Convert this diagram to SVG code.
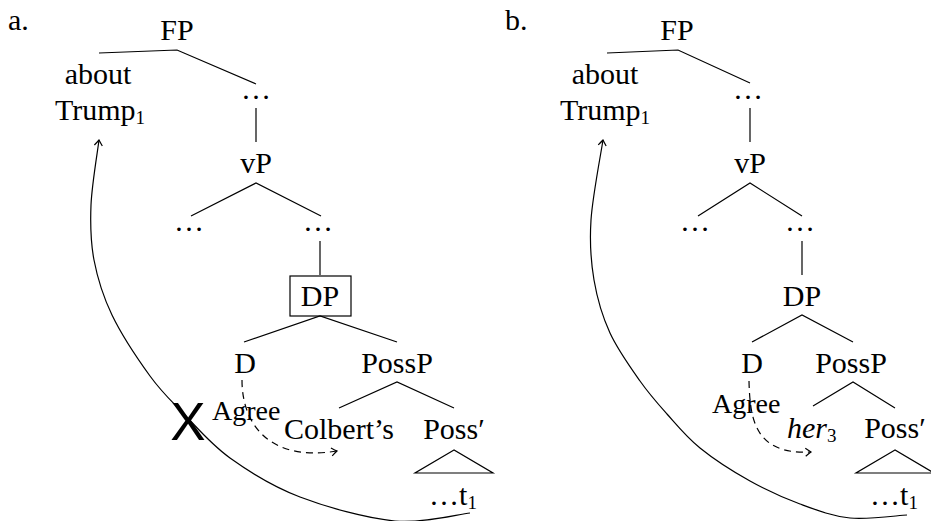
<svg xmlns="http://www.w3.org/2000/svg" width="931" height="521" viewBox="0 0 931 521">
<defs>
<style>
text{font-family:"Liberation Serif","Times New Roman",serif;font-size:30px;fill:#000}
.m{text-anchor:middle}
.ag{font-size:28px}
.sub{font-size:19px}
.it{font-style:italic}
.x{font-family:"Liberation Sans",Arial,sans-serif;font-size:53px;text-anchor:middle}
.e{stroke:#000;stroke-width:1.2;fill:none}
.dash{stroke:#000;stroke-width:1.2;fill:none;stroke-dasharray:7 5}
.box{stroke:#000;stroke-width:1.2;fill:none}
</style>
<marker id="arr" markerUnits="userSpaceOnUse" markerWidth="14" markerHeight="14" viewBox="-8 -7 14 14" refX="0" refY="0" orient="auto" overflow="visible">
<path d="M-5.5,-4 Q-1.5,-1 0,0 Q-1.5,1 -5.5,4" style="stroke:#000;stroke-width:1.2;fill:none;stroke-dasharray:none"/>
</marker>
</defs>
<rect width="931" height="521" fill="#fff"/>

<g id="connectors">
<!-- tree a -->
<path class="e" d="M99,53 L177,50 L256,84"/>
<path class="e" d="M256,108 L256,142"/>
<path class="e" d="M191,216 L256,183 L321,216"/>
<path class="e" d="M320,241 L320,275"/>
<path class="e" d="M244,342 L320,316 L397,342"/>
<path class="e" d="M339,408 L397,382 L454,408"/>
<path class="e" d="M454,450 L415,473 L493,473 Z"/>
<path class="dash" d="M242,380 C242,425 270,462 337,451" marker-end="url(#arr)"/>
<path class="e" d="M470,513 C457.5,514.3 423.3,523.7 395,521 C366.7,518.3 327.5,507.5 300,497 C272.5,486.5 249.5,472 230,458 C210.5,444 196.3,426.7 183,413 C169.7,399.3 161.8,392.3 150,376 C138.2,359.7 121.3,334.3 112,315 C102.7,295.7 97.5,278.3 94,260 C90.5,241.7 90.2,225 91,205 C91.8,185 97.7,150.8 99,140" marker-end="url(#arr)"/>
<!-- tree b -->
<path class="e" d="M607,53 L678,50 L750,83"/>
<path class="e" d="M750,108 L750,142"/>
<path class="e" d="M698,216 L750,183 L802,216"/>
<path class="e" d="M802,241 L802,275"/>
<path class="e" d="M752,342 L802,315 L853,342"/>
<path class="e" d="M813,406 L853,382 L895,408"/>
<path class="e" d="M895,450 L856,473 L934,473 Z"/>
<path class="dash" d="M749,381 C750,420 755,455 811,452" marker-end="url(#arr)"/>
<path class="e" d="M907,515 C897.5,515.5 867.8,519.8 850,518 C832.2,516.2 816.7,510.2 800,504 C783.3,497.8 766.7,490.3 750,481 C733.3,471.7 713.8,459.2 700,448 C686.2,436.8 677,425.2 667,414 C657,402.8 649.5,394.5 640,381 C630.5,367.5 617.7,349.8 610,333 C602.3,316.2 597.2,298.8 594,280 C590.8,261.2 589.5,243.3 591,220 C592.5,196.7 601,153.3 603,140" marker-end="url(#arr)"/>
</g>

<g id="label-a"><text x="8" y="30">a.</text></g>
<g id="a-FP"><text class="m" x="177" y="40">FP</text></g>
<g id="a-about"><text class="m" x="98" y="84">about</text><text class="m" x="100" y="120">Trump<tspan class="sub" dy="4">1</tspan></text></g>
<g id="a-dots1"><text class="m" x="256" y="99">…</text></g>
<g id="a-vP"><text class="m" x="256" y="173">vP</text></g>
<g id="a-dots2"><text class="m" x="189" y="231">…</text></g>
<g id="a-dots3"><text class="m" x="318" y="231">…</text></g>
<g id="a-DP"><rect class="box" x="290" y="276" width="61" height="40"/><text class="m" x="320" y="306">DP</text></g>
<g id="a-D"><text class="m" x="245" y="373">D</text></g>
<g id="a-PossP"><text class="m" x="397" y="373">PossP</text></g>
<g id="a-Agree"><text class="ag" x="212" y="420">Agree</text></g>
<g id="a-Colbert"><text class="m" x="339" y="439">Colbert’s</text></g>
<g id="a-Possbar"><text class="m" x="454" y="439">Poss′</text></g>
<g id="a-t1"><text class="m" x="453" y="505">…t<tspan class="sub" dy="4">1</tspan></text></g>
<g id="a-X"><text class="x" x="188" y="440">X</text></g>

<g id="label-b"><text x="505" y="30">b.</text></g>
<g id="b-FP"><text class="m" x="677" y="40">FP</text></g>
<g id="b-about"><text class="m" x="605" y="84">about</text><text class="m" x="605" y="120">Trump<tspan class="sub" dy="4">1</tspan></text></g>
<g id="b-dots1"><text class="m" x="748" y="99">…</text></g>
<g id="b-vP"><text class="m" x="750" y="173">vP</text></g>
<g id="b-dots2"><text class="m" x="695" y="231">…</text></g>
<g id="b-dots3"><text class="m" x="800" y="231">…</text></g>
<g id="b-DP"><text class="m" x="802" y="306">DP</text></g>
<g id="b-D"><text class="m" x="752" y="373">D</text></g>
<g id="b-PossP"><text class="m" x="851" y="373">PossP</text></g>
<g id="b-Agree"><text class="ag" x="712" y="413">Agree</text></g>
<g id="b-her"><text x="787" y="438"><tspan class="it">her</tspan><tspan class="sub" dy="4">3</tspan></text></g>
<g id="b-Possbar"><text class="m" x="895" y="438">Poss′</text></g>
<g id="b-t1"><text class="m" x="894" y="505">…t<tspan class="sub" dy="4">1</tspan></text></g>
</svg>
